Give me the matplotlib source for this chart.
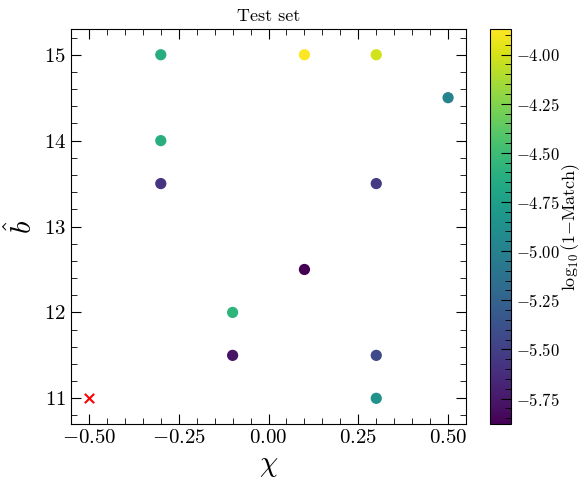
import numpy as np
import matplotlib
matplotlib.use("Agg")
import matplotlib.pyplot as plt

plt.rcParams["font.family"] = "serif"
plt.rcParams["font.serif"] = ["cmr10"]
plt.rcParams["mathtext.fontset"] = "cm"
plt.rcParams["axes.formatter.use_mathtext"] = True

# test set points: spin chi, b_hat, log10(1 - match)
chi = [-0.3, -0.3, -0.3, -0.1, -0.1, 0.1, 0.1, 0.3, 0.3, 0.3, 0.3, 0.5]
b_hat = [15.0, 14.0, 13.5, 12.0, 11.5, 15.0, 12.5, 15.0, 13.5, 11.5, 11.0, 14.5]
log_mismatch = [-4.63, -4.61, -5.58, -4.57, -5.78, -3.87, -5.88, -4.01, -5.53, -5.43, -4.87, -4.98]

# failed case
fail_chi = [-0.5]
fail_b = [11.0]

fig = plt.figure(figsize=(5.84, 4.83), dpi=100)
ax = fig.add_axes([0.1216, 0.122, 0.6764, 0.818])
cax = fig.add_axes([0.839, 0.122, 0.036, 0.818])

sc = ax.scatter(chi, b_hat, c=log_mismatch, cmap="viridis", s=50)
ax.scatter(fail_chi, fail_b, marker="x", color="red", s=45)

ax.set_xlim(-0.55, 0.55)
ax.set_ylim(10.7, 15.3)
ax.set_xticks([-0.5, -0.25, 0.0, 0.25, 0.5])
ax.set_xticklabels([r"$-0.50$", r"$-0.25$", r"$0.00$", r"$0.25$", r"$0.50$"])
ax.set_yticks([11, 12, 13, 14, 15])
ax.minorticks_on()
ax.tick_params(which="both", direction="in", top=True, right=True, labelsize=15)
ax.tick_params(which="major", length=7)
ax.tick_params(which="minor", length=4)
ax.set_xlabel(r"$\chi$", fontsize=21)
ax.set_ylabel(r"$\hat{b}$", fontsize=21)
ax.set_title("Test set", fontsize=13)

cb = fig.colorbar(sc, cax=cax)
cb.set_ticks([-5.75, -5.5, -5.25, -5.0, -4.75, -4.5, -4.25, -4.0])
cb.set_ticklabels([r"$-5.75$", r"$-5.50$", r"$-5.25$", r"$-5.00$",
                   r"$-4.75$", r"$-4.50$", r"$-4.25$", r"$-4.00$"])
cb.minorticks_on()
cax.tick_params(which="both", direction="in", labelsize=12)
cax.tick_params(which="major", length=7)
cax.tick_params(which="minor", length=4)
cb.set_label(r"$\log_{10}(1{-}\mathrm{Match})$", fontsize=13, labelpad=0)

fig.savefig("out.png", dpi=100)
